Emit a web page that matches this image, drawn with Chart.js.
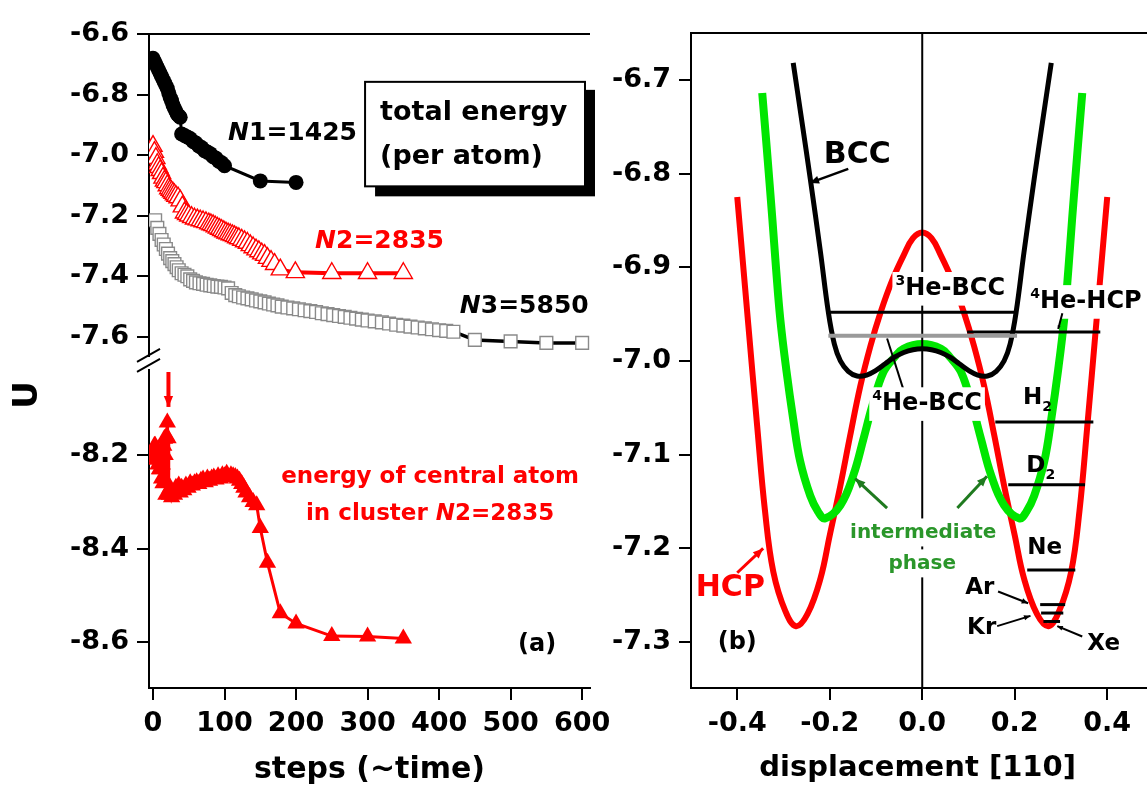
<!DOCTYPE html>
<html>
<head>
<meta charset="utf-8">
<script src="https://cdn.jsdelivr.net/npm/chart.js@4.4.0/dist/chart.umd.min.js"></script>
<style>
  body { margin: 0; background: #fff; width: 1147px; height: 787px; overflow: hidden; position: relative; }
  canvas { position: absolute; }
  #topLeft { left: 0; top: 0; }
  #bottomLeft { left: 0; top: 340px; }
  #right { left: 600px; top: 0; }
</style>
</head>
<body>
<canvas id="topLeft" width="620" height="380"></canvas>
<canvas id="bottomLeft" width="620" height="447"></canvas>
<canvas id="right" width="547" height="787"></canvas>
<script>
"use strict";

// ---- panel (a): total energy per atom ----
const n1Steps = [0, 2, 4, 6, 8, 10, 12, 14, 16, 18, 20, 22, 24, 26, 28, 30, 32, 34, 36, 38,
    40, 44, 48, 52, 56, 60, 64, 68, 72, 76, 80, 84, 88, 92, 96, 100, 150, 200];
const n1Energy = [-6.68, -6.69, -6.70, -6.71, -6.72, -6.73, -6.74, -6.75, -6.76, -6.77, -6.78, -6.795, -6.81, -6.82, -6.835, -6.845, -6.855, -6.865, -6.87, -6.875,
    -6.93, -6.935, -6.94, -6.945, -6.955, -6.96, -6.97, -6.975, -6.985, -6.99, -6.995, -7.005, -7.01, -7.02, -7.025, -7.035, -7.085, -7.09];

const n2Steps = [0, 2, 4, 6, 8, 10, 12, 14, 16, 18, 20, 22, 24, 26, 28, 30, 32, 35, 38, 41, 44, 47, 50, 54, 58, 62, 66, 70, 74, 78,
    81, 84, 87, 90, 93, 96, 99, 102, 105, 108, 111, 114, 117, 120, 124, 128, 132, 136, 140, 144, 148, 152, 156, 160, 165, 170, 178, 199, 250, 300, 350];
const n2Energy = [-6.97, -6.99, -7.01, -7.03, -7.04, -7.05, -7.06, -7.075, -7.085, -7.09, -7.10, -7.11, -7.115, -7.12, -7.125, -7.13, -7.135, -7.14, -7.15, -7.17,
    -7.19, -7.195, -7.2, -7.205, -7.21, -7.213, -7.216, -7.219, -7.222, -7.226, -7.229, -7.232, -7.236, -7.24, -7.244, -7.248, -7.252, -7.256, -7.259, -7.262,
    -7.265, -7.268, -7.272, -7.275, -7.28, -7.285, -7.29, -7.298, -7.305, -7.312, -7.318, -7.325, -7.33, -7.34, -7.35, -7.36, -7.378, -7.387, -7.39, -7.39, -7.39];

const n3Steps = [3, 6, 9, 12, 15, 18, 21, 24, 27, 30, 33, 36, 40, 44, 48, 52, 56, 60, 65, 70, 75, 80, 85, 90, 95, 100, 105, 110, 115, 120,
    126, 132, 138, 144, 150, 156, 162, 168, 174, 180, 188, 196, 204, 212, 220, 228, 236, 244, 252, 260, 268, 276, 284, 292, 300,
    310, 320, 330, 340, 350, 360, 370, 380, 390, 400, 410, 420, 450, 500, 550, 600];
const n3Energy = [-7.215, -7.24, -7.26, -7.28, -7.295, -7.31, -7.325, -7.34, -7.35, -7.36, -7.37, -7.38, -7.39, -7.395, -7.40, -7.41, -7.415, -7.42, -7.423, -7.425,
    -7.428, -7.43, -7.432, -7.434, -7.435, -7.437, -7.44, -7.455, -7.462, -7.466, -7.47, -7.473, -7.476, -7.48, -7.483, -7.486, -7.49, -7.493, -7.496, -7.5,
    -7.503, -7.506, -7.509, -7.512, -7.515, -7.518, -7.522, -7.525, -7.528, -7.531, -7.534, -7.537, -7.54, -7.543, -7.546, -7.549, -7.552, -7.556, -7.56, -7.563,
    -7.566, -7.569, -7.572, -7.575, -7.578, -7.58, -7.583, -7.61, -7.615, -7.62, -7.62];

// energy of the central atom in cluster N2
const centralSteps = [0, 1, 2, 3, 4, 5, 6, 7, 8, 9, 10, 11, 12, 13, 14, 15, 16, 17, 18, 19, 20, 21, 22, 23, 24, 26, 28, 30, 32, 34, 36, 38, 40,
    43, 46, 49, 52, 55, 58, 61, 64, 67, 70, 73, 76, 79, 82, 85, 88, 91, 94, 97, 100, 103, 106, 109, 112, 115, 118, 121, 124, 127, 130,
    135, 140, 145, 150, 160, 178, 200, 250, 300, 350];
const centralEnergy = [-8.205, -8.19, -8.18, -8.18, -8.2, -8.21, -8.19, -8.22, -8.2, -8.23, -8.23, -8.21, -8.25, -8.22, -8.26, -8.18, -8.165, -8.2, -8.285, -8.16,
    -8.13, -8.164, -8.28, -8.285, -8.27, -8.29, -8.28, -8.285, -8.27, -8.275, -8.265, -8.28, -8.27, -8.275, -8.265, -8.27, -8.26, -8.265, -8.26, -8.258,
    -8.262, -8.255, -8.252, -8.258, -8.25, -8.255, -8.25, -8.248, -8.252, -8.245, -8.25, -8.243, -8.245, -8.24, -8.248, -8.243, -8.245, -8.247, -8.25, -8.255,
    -8.262, -8.27, -8.28, -8.29, -8.3, -8.307, -8.356, -8.43, -8.538, -8.56, -8.587, -8.588, -8.592];

const stepTicks = [0, 100, 200, 300, 400, 500, 600];
const upperTicks = [-6.6, -6.8, -7.0, -7.2, -7.4, -7.6];
const lowerTicks = [-8.2, -8.4, -8.6];

// ---- panel (b): energy vs displacement along [110] ----
const hcpDisp = [-0.40, -0.39, -0.376, -0.357, -0.34, -0.322, -0.296, -0.273, -0.248, -0.22, -0.2, -0.177, -0.156, -0.134, -0.112, -0.09, -0.065, -0.04, -0.02, 0,
    0.02, 0.04, 0.065, 0.09, 0.112, 0.134, 0.156, 0.177, 0.2, 0.22, 0.248, 0.273, 0.296, 0.322, 0.34, 0.357, 0.376, 0.39, 0.40];
const hcpEnergy = [-6.825, -6.882, -6.962, -7.069, -7.16, -7.225, -7.267, -7.283, -7.27, -7.232, -7.186, -7.133, -7.08, -7.027, -6.984, -6.948, -6.914, -6.887, -6.869, -6.863,
    -6.869, -6.887, -6.914, -6.948, -6.984, -7.027, -7.08, -7.133, -7.186, -7.232, -7.27, -7.283, -7.267, -7.225, -7.16, -7.069, -6.962, -6.882, -6.825];

const bccDisp = [-0.279, -0.26, -0.242, -0.22, -0.203, -0.19, -0.177, -0.16, -0.141, -0.12, -0.1, -0.08, -0.06, -0.04, -0.02, 0,
    0.02, 0.04, 0.06, 0.08, 0.1, 0.12, 0.141, 0.16, 0.177, 0.19, 0.203, 0.22, 0.242, 0.26, 0.279];
const bccEnergy = [-6.682, -6.745, -6.806, -6.884, -6.948, -6.982, -7.0, -7.011, -7.016, -7.015, -7.01, -7.003, -6.996, -6.991, -6.988, -6.987,
    -6.988, -6.991, -6.996, -7.003, -7.01, -7.015, -7.016, -7.011, -7.0, -6.982, -6.948, -6.884, -6.806, -6.745, -6.682];

const midDisp = [-0.346, -0.336, -0.324, -0.316, -0.307, -0.294, -0.279, -0.264, -0.242, -0.225, -0.21, -0.177, -0.149, -0.127, -0.108, -0.084, -0.06, -0.041, 0,
    0.041, 0.06, 0.084, 0.108, 0.127, 0.149, 0.177, 0.21, 0.225, 0.242, 0.264, 0.279, 0.294, 0.307, 0.316, 0.324, 0.336, 0.346];
const midEnergy = [-6.714, -6.774, -6.849, -6.902, -6.955, -7.009, -7.062, -7.107, -7.144, -7.161, -7.168, -7.154, -7.122, -7.083, -7.048, -7.012, -6.996, -6.987, -6.982,
    -6.987, -6.996, -7.012, -7.048, -7.083, -7.122, -7.154, -7.168, -7.161, -7.144, -7.107, -7.062, -7.009, -6.955, -6.902, -6.849, -6.774, -6.714];

// zero-point levels of the quantum crystals and rare gases
const levelNames = ["3He-BCC", "4He-BCC", "4He-HCP", "H2", "D2", "Ne", "Ar", "Kr", "Xe"];
const levelEnergy = [-6.948, -6.973, -6.969, -7.065, -7.132, -7.223, -7.26, -7.269, -7.278];
const levelFrom = [-0.203, -0.203, 0.097, 0.158, 0.186, 0.227, 0.255, 0.257, 0.262];
const levelTo = [0.205, 0.205, 0.385, 0.37, 0.352, 0.331, 0.309, 0.305, 0.298];

const dispTicks = [-0.4, -0.2, 0.0, 0.2, 0.4];
const bTicks = [-6.7, -6.8, -6.9, -7.0, -7.1, -7.2, -7.3];

// ---------------------------------------------------------------
const FAM = "DejaVu Sans";
const RED = "#ff0000";
const GREEN = "#00e600";
const DKGREEN = "#2a962a";

Chart.defaults.font.family = FAM;
Chart.defaults.animation = false;

const pts = (xs, ys) => xs.map((x, i) => ({ x: x, y: ys[i] }));

function richText(ctx, parts, x, y, size, color, align, bg) {
    ctx.save();
    ctx.textBaseline = "middle";
    ctx.textAlign = "left";
    let w = 0;
    const m = parts.map(p => {
        const s = (p.sup || p.sub) ? Math.round(size * 0.6) : size;
        const f = (p.italic ? "italic " : "") + "bold " + s + "px '" + FAM + "'";
        ctx.font = f;
        const pw = ctx.measureText(p.t).width;
        w += pw;
        return { p: p, f: f, pw: pw };
    });
    let x0 = align === "center" ? x - w / 2 : (align === "right" ? x - w : x);
    if (bg) {
        ctx.fillStyle = "#fff";
        ctx.fillRect(x0 - 3, y - size * 0.7, w + 6, size * 1.4);
    }
    ctx.fillStyle = color;
    m.forEach(it => {
        ctx.font = it.f;
        let yy = y;
        if (it.p.sup) yy = y - size * 0.32;
        if (it.p.sub) yy = y + size * 0.4;
        ctx.fillText(it.p.t, x0, yy);
        x0 += it.pw;
    });
    ctx.restore();
}

function arrow(ctx, a, b, color, width, head) {
    ctx.save();
    ctx.strokeStyle = color;
    ctx.fillStyle = color;
    ctx.lineWidth = width;
    ctx.beginPath();
    ctx.moveTo(a.x, a.y);
    ctx.lineTo(b.x, b.y);
    ctx.stroke();
    if (head) {
        const ang = Math.atan2(b.y - a.y, b.x - a.x);
        ctx.beginPath();
        ctx.moveTo(b.x, b.y);
        ctx.lineTo(b.x - head * Math.cos(ang - 0.4), b.y - head * Math.sin(ang - 0.4));
        ctx.lineTo(b.x - head * Math.cos(ang + 0.4), b.y - head * Math.sin(ang + 0.4));
        ctx.closePath();
        ctx.fill();
    }
    ctx.restore();
}

const P = (chart, x, y) => ({ x: chart.scales.x.getPixelForValue(x), y: chart.scales.y.getPixelForValue(y) });

function topLine(chart) {
    const ca = chart.chartArea, ctx = chart.ctx;
    ctx.save();
    ctx.strokeStyle = "#000";
    ctx.lineWidth = 2;
    ctx.beginPath();
    ctx.moveTo(ca.left - 1, ca.top);
    ctx.lineTo(ca.right, ca.top);
    ctx.stroke();
    ctx.restore();
}

function yAxis(ticksArr, min, max, width, fmt) {
    return {
        type: "linear", min: min, max: max,
        afterFit: s => { s.width = width; },
        afterBuildTicks: s => { s.ticks = ticksArr.map(v => ({ value: v })); },
        grid: { display: true, drawOnChartArea: false, drawTicks: true, tickLength: 12, color: "#000", lineWidth: 2 },
        border: { display: true, color: "#000", width: 2 },
        ticks: { color: "#000", padding: 8, font: { family: FAM, weight: "bold", size: 27 }, callback: fmt }
    };
}

function xAxis(ticksArr, min, max, fmt) {
    return {
        type: "linear", min: min, max: max,
        afterFit: s => { s.height = 99; },
        afterBuildTicks: s => { s.ticks = ticksArr.map(v => ({ value: v })); },
        grid: { display: true, drawOnChartArea: false, drawTicks: true, tickLength: 12, color: "#000", lineWidth: 2 },
        border: { display: true, color: "#000", width: 2 },
        ticks: { color: "#000", padding: 8, maxRotation: 0, font: { family: FAM, weight: "bold", size: 27 }, callback: fmt }
    };
}

const baseOpts = {
    responsive: false,
    animation: false,
    plugins: { legend: { display: false }, tooltip: { enabled: false } },
    events: []
};

// ---- (a) upper part ----
new Chart(document.getElementById("topLeft"), {
    type: "scatter",
    data: {
        datasets: [{
            data: pts(n1Steps, n1Energy), showLine: true, borderColor: "#000", borderWidth: 3,
            pointStyle: "circle", pointRadius: 7.5, pointBackgroundColor: "#000", pointBorderWidth: 0
        }, {
            data: pts(n2Steps, n2Energy), showLine: true, borderColor: RED, borderWidth: 4,
            pointStyle: "triangle", pointRadius: 10.5, pointBackgroundColor: "#fff", pointBorderColor: RED, pointBorderWidth: 1.4
        }, {
            data: pts(n3Steps, n3Energy), showLine: true, borderColor: "#000", borderWidth: 3.5,
            pointStyle: "rect", pointRadius: 9, pointBackgroundColor: "#fff", pointBorderColor: "#8a8a8a", pointBorderWidth: 1.4
        }]
    },
    options: Object.assign({}, baseOpts, {
        layout: { padding: { left: 0, right: 30, top: 34, bottom: 23 } },
        scales: {
            x: { type: "linear", min: -5.6, max: 611, display: false },
            y: yAxis(upperTicks, -7.6625, -6.6, 149, v => v.toFixed(1))
        }
    }),
    plugins: [{
        id: "annotUpper",
        afterDatasetsDraw(chart) {
            const ctx = chart.ctx, ca = chart.chartArea;
            topLine(chart);
            // axis break
            ctx.save();
            ctx.strokeStyle = "#000";
            ctx.lineWidth = 2;
            ctx.beginPath();
            ctx.moveTo(ca.left - 12, ca.bottom + 6); ctx.lineTo(ca.left + 11, ca.bottom - 7);
            ctx.moveTo(ca.left - 12, ca.bottom + 16); ctx.lineTo(ca.left + 11, ca.bottom + 3);
            ctx.stroke();
            ctx.restore();

            let p = P(chart, 105, -6.929);
            richText(ctx, [{ t: "N", italic: true }, { t: "1=1425" }], p.x, p.y, 25, "#000", "left");
            p = P(chart, 226.6, -7.284);
            richText(ctx, [{ t: "N", italic: true }, { t: "2=2835" }], p.x, p.y, 25, RED, "left");
            p = P(chart, 429, -7.501);
            richText(ctx, [{ t: "N", italic: true }, { t: "3=5850" }], p.x, p.y, 25, "#000", "left");

            // boxed caption with shadow
            const a = P(chart, 296.5, -6.758), b = P(chart, 604, -7.103);
            ctx.save();
            ctx.fillStyle = "#000";
            ctx.fillRect(a.x + 10, a.y + 8, b.x - a.x, b.y - a.y + 2);
            ctx.fillStyle = "#fff";
            ctx.fillRect(a.x, a.y, b.x - a.x, b.y - a.y);
            ctx.strokeStyle = "#000";
            ctx.lineWidth = 2;
            ctx.strokeRect(a.x, a.y, b.x - a.x, b.y - a.y);
            ctx.restore();
            p = P(chart, 317.5, -6.86);
            richText(ctx, [{ t: "total energy" }], p.x, p.y, 27, "#000", "left");
            p = P(chart, 317.5, -7.005);
            richText(ctx, [{ t: "(per atom)" }], p.x, p.y, 27, "#000", "left");
        }
    }]
});

// ---- (a) lower part ----
new Chart(document.getElementById("bottomLeft"), {
    type: "scatter",
    data: {
        datasets: [{
            data: pts(centralSteps, centralEnergy), showLine: true, borderColor: RED, borderWidth: 3,
            pointStyle: "triangle", pointRadius: 10, pointBackgroundColor: RED, pointBorderColor: RED, pointBorderWidth: 0
        }]
    },
    options: Object.assign({}, baseOpts, {
        layout: { padding: { left: 0, right: 30, top: 30, bottom: 0 } },
        scales: {
            x: xAxis(stepTicks, -5.6, 611, v => String(v)),
            y: yAxis(lowerTicks, -8.698, -8.018, 149, v => v.toFixed(1))
        }
    }),
    plugins: [{
        id: "annotLower",
        afterDatasetsDraw(chart) {
            const ctx = chart.ctx, ca = chart.chartArea;
            const top = { x: chart.scales.x.getPixelForValue(21.6), y: ca.top + 2 };
            arrow(ctx, top, P(chart, 21.6, -8.097), RED, 4, 12);

            let p = P(chart, 387.5, -8.247);
            richText(ctx, [{ t: "energy of central atom" }], p.x, p.y, 23, RED, "center");
            p = P(chart, 387.5, -8.326);
            richText(ctx, [{ t: "in cluster " }, { t: "N", italic: true }, { t: "2=2835" }], p.x, p.y, 23, RED, "center");
            p = P(chart, 537, -8.606);
            richText(ctx, [{ t: "(a)" }], p.x, p.y, 24, "#000", "center");

            // axis titles
            ctx.save();
            ctx.fillStyle = "#000";
            ctx.font = "bold 30px '" + FAM + "'";
            ctx.textAlign = "center";
            ctx.textBaseline = "alphabetic";
            ctx.fillText("steps (~time)", (ca.left + ca.right) / 2, 438);
            ctx.translate(28, 55);
            ctx.rotate(-Math.PI / 2);
            ctx.textBaseline = "middle";
            ctx.font = "bold 34px '" + FAM + "'";
            ctx.fillText("U", 0, 0);
            ctx.restore();
        }
    }]
});

// ---- (b) ----
const levelSets = levelNames.map((name, i) => ({
    data: [{ x: levelFrom[i], y: levelEnergy[i] }, { x: levelTo[i], y: levelEnergy[i] }],
    showLine: true, pointRadius: 0, order: 1,
    borderColor: name === "4He-BCC" ? "#9a9a9a" : "#000",
    borderWidth: name === "4He-BCC" ? 4 : 3
}));

new Chart(document.getElementById("right"), {
    type: "scatter",
    data: {
        datasets: levelSets.concat([{
            data: [{ x: 0, y: -6.65 }, { x: 0, y: -7.35 }], showLine: true, pointRadius: 0,
            borderColor: "#000", borderWidth: 2, order: 2
        }, {
            data: pts(bccDisp, bccEnergy), showLine: true, pointRadius: 0, borderColor: "#000",
            borderWidth: 5, tension: 0.4, order: 3
        }, {
            data: pts(midDisp, midEnergy), showLine: true, pointRadius: 0, borderColor: GREEN,
            borderWidth: 8, tension: 0.4, order: 4
        }, {
            data: pts(hcpDisp, hcpEnergy), showLine: true, pointRadius: 0, borderColor: RED,
            borderWidth: 6, tension: 0.4, order: 5
        }])
    },
    options: Object.assign({}, baseOpts, {
        layout: { padding: { left: 0, right: 0, top: 33, bottom: 0 } },
        scales: {
            x: xAxis(dispTicks, -0.5, 0.486, v => v.toFixed(1)),
            y: yAxis(bTicks, -7.349, -6.65, 91, v => v.toFixed(1))
        }
    }),
    plugins: [{
        id: "annotRight",
        afterDatasetsDraw(chart) {
            const ctx = chart.ctx;
            topLine(chart);

            let p = P(chart, -0.1405, -6.78);
            richText(ctx, [{ t: "BCC" }], p.x, p.y, 30, "#000", "center");
            arrow(ctx, P(chart, -0.16, -6.795), P(chart, -0.243, -6.81), "#000", 2.5, 10);

            p = P(chart, -0.058, -6.923);
            richText(ctx, [{ t: "3", sup: true }, { t: "He-BCC" }], p.x, p.y, 24, "#000", "left", true);
            p = P(chart, 0.2335, -6.937);
            richText(ctx, [{ t: "4", sup: true }, { t: "He-HCP" }], p.x, p.y, 24, "#000", "left", true);
            arrow(ctx, P(chart, 0.303, -6.949), P(chart, 0.294, -6.966), "#000", 2, 4);

            arrow(ctx, P(chart, -0.041, -7.03), P(chart, -0.076, -6.976), "#000", 2, 0);
            p = P(chart, -0.108, -7.046);
            richText(ctx, [{ t: "4", sup: true }, { t: "He-BCC" }], p.x, p.y, 24, "#000", "left", true);

            p = P(chart, 0.218, -7.04);
            richText(ctx, [{ t: "H" }, { t: "2", sub: true }], p.x, p.y, 23, "#000", "left");
            p = P(chart, 0.225, -7.112);
            richText(ctx, [{ t: "D" }, { t: "2", sub: true }], p.x, p.y, 23, "#000", "left");
            p = P(chart, 0.227, -7.2);
            richText(ctx, [{ t: "Ne" }], p.x, p.y, 23, "#000", "left");
            p = P(chart, 0.093, -7.2425);
            richText(ctx, [{ t: "Ar" }], p.x, p.y, 23, "#000", "left");
            p = P(chart, 0.097, -7.285);
            richText(ctx, [{ t: "Kr" }], p.x, p.y, 23, "#000", "left");
            p = P(chart, 0.357, -7.302);
            richText(ctx, [{ t: "Xe" }], p.x, p.y, 23, "#000", "left");
            arrow(ctx, P(chart, 0.164, -7.246), P(chart, 0.229, -7.2585), "#000", 2, 7);
            arrow(ctx, P(chart, 0.162, -7.283), P(chart, 0.234, -7.272), "#000", 2, 7);
            arrow(ctx, P(chart, 0.346, -7.294), P(chart, 0.292, -7.283), "#000", 2, 6);

            p = P(chart, -0.415, -7.2425);
            richText(ctx, [{ t: "HCP" }], p.x, p.y, 30, RED, "center");
            arrow(ctx, P(chart, -0.4, -7.226), P(chart, -0.344, -7.2), RED, 3, 11);

            p = P(chart, 0.002, -7.183);
            richText(ctx, [{ t: "intermediate" }], p.x, p.y, 20, DKGREEN, "center", true);
            p = P(chart, 0.0, -7.216);
            richText(ctx, [{ t: "phase" }], p.x, p.y, 20, DKGREEN, "center", true);
            arrow(ctx, P(chart, -0.076, -7.157), P(chart, -0.145, -7.1255), "#1f7a1f", 3, 11);
            arrow(ctx, P(chart, 0.076, -7.157), P(chart, 0.14, -7.123), "#1f7a1f", 3, 11);

            p = P(chart, -0.4, -7.301);
            richText(ctx, [{ t: "(b)" }], p.x, p.y, 24, "#000", "center");

            ctx.save();
            ctx.fillStyle = "#000";
            ctx.font = "bold 29px '" + FAM + "'";
            ctx.textAlign = "center";
            ctx.textBaseline = "alphabetic";
            ctx.fillText("displacement [110]", chart.scales.x.getPixelForValue(-0.01), 776);
            ctx.restore();
        }
    }]
});
</script>
</body>
</html>
